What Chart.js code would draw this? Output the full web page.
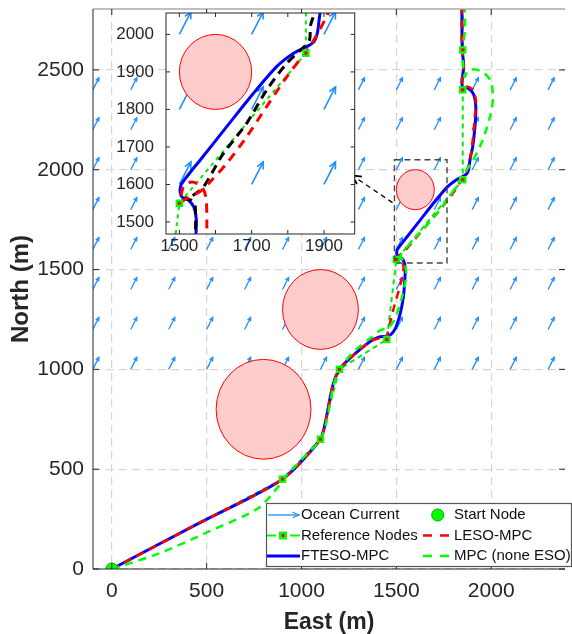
<!DOCTYPE html>
<html>
<head>
<meta charset="utf-8">
<script src="https://cdn.jsdelivr.net/npm/chart.js@4.4.1/dist/chart.umd.min.js"></script>
<style>
  html, body { margin: 0; padding: 0; background: #fff; overflow: hidden; }
  #wrap { position: relative; width: 572px; height: 634px; }
  #main { position: absolute; left: 0; top: 0; }
  #inset { position: absolute; left: 110px; top: 0; }
</style>
</head>
<body>
<div id="wrap">
  <canvas id="main" width="572" height="634"></canvas>
  <canvas id="inset" width="250" height="270"></canvas>
</div>
<script>
// tick values
const xTicks = [0, 500, 1000, 1500, 2000];
const yTicks = [0, 500, 1000, 1500, 2000, 2500];
const insetXTicks = [1500, 1600, 1700, 1800, 1900];
const insetXLabels = ['1500', '', '1700', '', '1900'];
const insetYTicks = [1500, 1600, 1700, 1800, 1900, 2000];

// obstacles (centre + radius, metres)
const obsX = [800, 1100, 1600];
const obsY = [800, 1300, 1900];
const obsR = [250, 200, 100];

// ocean current field (uniform)
const currentX = [-100, 100, 300, 500, 700, 900, 1100, 1300, 1500, 1700, 1900, 2100, 2300];
const currentY = [1000, 1200, 1400, 1600, 1800, 2000, 2200, 2400];
const currentU = 32;
const currentV = 60;

const startNode = [[0, 0]];
const refNodes = [[0, 0], [900, 450], [1100, 650], [1200, 1000], [1450, 1150], [1500, 1550],
  [1850, 1950], [1850, 2400], [1850, 2600], [1850, 2900]];

const ftesoPath = [[0, 0], [450, 225], [900, 450], [1100, 650], [1125, 730], [1165, 920], [1200, 1000],
  [1255, 1055], [1360, 1138], [1410, 1162], [1445, 1166], [1470, 1174], [1495, 1205], [1520, 1278],
  [1537, 1362], [1544, 1440], [1547, 1505], [1540, 1540], [1524, 1559], [1508, 1566], [1502, 1580],
  [1505, 1600], [1560, 1668], [1631, 1754], [1705, 1843], [1769, 1914], [1815, 1949], [1852, 1967],
  [1872, 1980], [1882, 2005], [1889, 2056], [1902, 2112], [1914, 2212], [1919, 2312], [1907, 2378],
  [1876, 2410], [1850, 2412], [1846, 2445], [1855, 2512], [1848, 2600], [1846, 2700], [1846, 2900]];

const lesoPath = [[0, 0], [450, 225], [900, 450], [1100, 650], [1125, 730], [1165, 920], [1200, 1000],
  [1255, 1055], [1360, 1138], [1420, 1158], [1445, 1156], [1462, 1215], [1490, 1320], [1520, 1420],
  [1538, 1505], [1530, 1540], [1508, 1553], [1512, 1568], [1545, 1594], [1620, 1677], [1710, 1777],
  [1790, 1870], [1845, 1950], [1868, 1985], [1888, 2050], [1903, 2150], [1912, 2250], [1920, 2340],
  [1905, 2400], [1875, 2416], [1848, 2418], [1846, 2460], [1855, 2520], [1846, 2600], [1844, 2700],
  [1844, 2900]];

const mpcPath = [[0, 0], [250, 78], [510, 187], [770, 303], [880, 415], [905, 452], [1000, 548],
  [1100, 648], [1132, 740], [1172, 930], [1205, 1002], [1260, 1075], [1314, 1120], [1366, 1158],
  [1418, 1198], [1452, 1204], [1485, 1240], [1510, 1300], [1532, 1370], [1548, 1440], [1552, 1490],
  [1540, 1535], [1522, 1565], [1535, 1592], [1570, 1627], [1610, 1670], [1712, 1778], [1790, 1878],
  [1850, 1970], [1902, 2045], [1954, 2145], [1997, 2278], [2010, 2362], [1997, 2445], [1960, 2487],
  [1911, 2503], [1876, 2495], [1860, 2465], [1852, 2520], [1848, 2600], [1862, 2700], [1858, 2900]];

// zoomed view only
const insetLesoPath = [[1575, 1440], [1576, 1510], [1574, 1560], [1567, 1586], [1550, 1602], [1530, 1606],
  [1512, 1595], [1505, 1572], [1502, 1554], [1521, 1563], [1558, 1582], [1585, 1607], [1631, 1656],
  [1686, 1727], [1741, 1807], [1797, 1887], [1843, 1945], [1861, 1967], [1907, 2047], [1920, 2080]];
const insetBlackPath = [[1544, 1440], [1544, 1540], [1535, 1557], [1516, 1563], [1539, 1572], [1567, 1594],
  [1620, 1680], [1686, 1763], [1741, 1851], [1797, 1923], [1843, 1965], [1860, 1985], [1863, 2025],
  [1876, 2060]];

// zoom window and pointer
const zoomBoxX = [1490, 1767];
const zoomBoxY = [1533, 2050];
const pointerFrom = [1480, 1835];
const pointerTo = [1266, 1972];

const FONT = '"Liberation Sans", Arial, sans-serif';
const TEXT = '#262626';
const CURRENT = '#1e8fff';

function pts(path) {
  return path.map(p => ({ x: p[0], y: p[1] }));
}

function line(ctx, x0, y0, x1, y1) {
  ctx.beginPath();
  ctx.moveTo(x0, y0);
  ctx.lineTo(x1, y1);
  ctx.stroke();
}

function head(ctx, x0, y0, x1, y1, len, spread) {
  const ang = Math.atan2(y1 - y0, x1 - x0);
  ctx.beginPath();
  ctx.moveTo(x1 - len * Math.cos(ang - spread), y1 - len * Math.sin(ang - spread));
  ctx.lineTo(x1, y1);
  ctx.lineTo(x1 - len * Math.cos(ang + spread), y1 - len * Math.sin(ang + spread));
  ctx.stroke();
}

function clipArea(ctx, a) {
  ctx.beginPath();
  ctx.rect(a.left, a.top, a.right - a.left, a.bottom - a.top);
  ctx.clip();
}

function drawCurrents(chart, lw) {
  const { ctx, scales: { x, y } } = chart;
  ctx.strokeStyle = CURRENT;
  ctx.lineWidth = lw;
  ctx.setLineDash([]);
  currentY.forEach(cy => currentX.forEach(cx => {
    const x0 = x.getPixelForValue(cx), y0 = y.getPixelForValue(cy);
    const x1 = x.getPixelForValue(cx + currentU), y1 = y.getPixelForValue(cy + currentV);
    line(ctx, x0, y0, x1, y1);
    head(ctx, x0, y0, x1, y1, Math.hypot(x1 - x0, y1 - y0) * 0.3, 0.45);
  }));
}

function drawObstacles(chart) {
  const { ctx, scales: { x, y } } = chart;
  obsX.forEach((ox, i) => {
    const cx = x.getPixelForValue(ox), cy = y.getPixelForValue(obsY[i]);
    const rx = Math.abs(x.getPixelForValue(ox + obsR[i]) - cx);
    const ry = Math.abs(y.getPixelForValue(obsY[i] + obsR[i]) - cy);
    ctx.beginPath();
    ctx.ellipse(cx, cy, rx, ry, 0, 0, 2 * Math.PI);
    ctx.fillStyle = '#ffcccc';
    ctx.fill();
    ctx.strokeStyle = '#ff0000';
    ctx.lineWidth = 1;
    ctx.stroke();
  });
}

function drawLegend(ctx) {
  const bx = 266, by = 503, bw = 305, bh = 63;
  const rows = [515, 535.5, 556];
  ctx.save();
  ctx.setLineDash([]);
  ctx.fillStyle = '#fff';
  ctx.fillRect(bx, by, bw, bh);
  ctx.strokeStyle = '#555';
  ctx.lineWidth = 1.2;
  ctx.strokeRect(bx + 0.5, by + 0.5, bw, bh);

  // Ocean Current
  ctx.strokeStyle = CURRENT; ctx.lineWidth = 1.3;
  line(ctx, 268, rows[0], 299, rows[0]);
  head(ctx, 268, rows[0], 299, rows[0], 7, 0.4);
  // Reference Nodes
  ctx.strokeStyle = '#00ff00'; ctx.lineWidth = 2;
  line(ctx, 267, rows[1], 276, rows[1]);
  line(ctx, 290, rows[1], 300, rows[1]);
  ctx.fillStyle = '#00ff00'; ctx.fillRect(279, rows[1] - 4, 8, 8);
  ctx.fillStyle = '#ff0000'; ctx.fillRect(281.5, rows[1] - 1.5, 3, 3);
  // FTESO-MPC
  ctx.strokeStyle = '#0000ff'; ctx.lineWidth = 3;
  line(ctx, 267, rows[2], 300, rows[2]);
  // Start Node
  ctx.beginPath(); ctx.arc(437.7, rows[0], 6, 0, 2 * Math.PI);
  ctx.fillStyle = '#00ff00'; ctx.fill();
  ctx.strokeStyle = '#00b000'; ctx.lineWidth = 1; ctx.stroke();
  // LESO-MPC / MPC
  ctx.lineWidth = 2.5;
  ctx.strokeStyle = '#ff0000';
  line(ctx, 423, rows[1], 432, rows[1]); line(ctx, 440, rows[1], 449, rows[1]);
  ctx.strokeStyle = '#00ff00';
  line(ctx, 423, rows[2], 432, rows[2]); line(ctx, 440, rows[2], 449, rows[2]);

  ctx.fillStyle = '#111';
  ctx.font = '15px ' + FONT;
  ctx.textBaseline = 'middle';
  ctx.textAlign = 'left';
  ctx.fillText('Ocean Current', 301, rows[0]);
  ctx.fillText('Reference Nodes', 301, rows[1]);
  ctx.fillText('FTESO-MPC', 301, rows[2]);
  ctx.fillText('Start Node', 454, rows[0]);
  ctx.fillText('LESO-MPC', 454, rows[1]);
  ctx.fillText('MPC (none ESO)', 454, rows[2]);
  ctx.restore();
}

const mainDecor = {
  id: 'mainDecor',
  beforeDatasetsDraw(chart) {
    const ctx = chart.ctx;
    ctx.save();
    clipArea(ctx, chart.chartArea);
    drawCurrents(chart, 1.3);
    drawObstacles(chart);
    ctx.restore();
  },
  afterDatasetsDraw(chart) {
    const { ctx, chartArea: a, scales: { x, y } } = chart;
    ctx.save();
    ctx.setLineDash([]);
    // frame and inward ticks
    ctx.strokeStyle = '#a8a8a8'; ctx.lineWidth = 1.5;
    line(ctx, a.left, a.top, a.right, a.top);
    ctx.strokeStyle = TEXT; ctx.lineWidth = 1;
    line(ctx, a.left, a.top, a.left, a.bottom);
    line(ctx, a.left, a.bottom, a.right, a.bottom);
    xTicks.forEach(v => {
      const px = x.getPixelForValue(v);
      line(ctx, px, a.bottom, px, a.bottom - 6);
      line(ctx, px, a.top, px, a.top + 6);
    });
    yTicks.forEach(v => {
      const py = y.getPixelForValue(v);
      line(ctx, a.left, py, a.left + 6, py);
      line(ctx, a.right, py, a.right - 6, py);
    });
    // zoom window
    const zx0 = x.getPixelForValue(zoomBoxX[0]), zx1 = x.getPixelForValue(zoomBoxX[1]);
    const zy0 = y.getPixelForValue(zoomBoxY[1]), zy1 = y.getPixelForValue(zoomBoxY[0]);
    ctx.strokeStyle = '#444'; ctx.lineWidth = 1.4;
    ctx.setLineDash([6, 4]);
    ctx.strokeRect(zx0, zy0, zx1 - zx0, zy1 - zy0);
    // pointer to the inset
    const p0x = x.getPixelForValue(pointerFrom[0]), p0y = y.getPixelForValue(pointerFrom[1]);
    const p1x = x.getPixelForValue(pointerTo[0]), p1y = y.getPixelForValue(pointerTo[1]);
    ctx.strokeStyle = '#000'; ctx.lineWidth = 1.3;
    ctx.setLineDash([5, 4]);
    line(ctx, p0x, p0y, p1x, p1y);
    ctx.setLineDash([]); ctx.lineWidth = 1.8;
    head(ctx, p0x, p0y, p1x, p1y, 10, 0.45);
    ctx.restore();
    drawLegend(ctx);
  }
};

const mainChart = new Chart(document.getElementById('main'), {
  type: 'scatter',
  data: {
    datasets: [
      { label: 'Start Node', data: pts(startNode), pointStyle: 'circle', pointRadius: 6,
        backgroundColor: '#00ff00', borderColor: '#00b000', borderWidth: 1 },
      { data: pts(refNodes), pointStyle: 'rect', pointRadius: 2.2, backgroundColor: '#ff0000', borderWidth: 0 },
      { label: 'Reference Nodes', data: pts(refNodes), pointStyle: 'rect', pointRadius: 5.3,
        backgroundColor: '#00ff00', borderWidth: 0 },
      { label: 'MPC (none ESO)', data: pts(mpcPath), showLine: true, pointRadius: 0,
        borderColor: '#00ff00', borderWidth: 2.5, borderDash: [8, 6], tension: 0.25 },
      { label: 'LESO-MPC', data: pts(lesoPath), showLine: true, pointRadius: 0,
        borderColor: '#ff0000', borderWidth: 2.5, borderDash: [8, 6], tension: 0.25 },
      { label: 'FTESO-MPC', data: pts(ftesoPath), showLine: true, pointRadius: 0,
        borderColor: '#0000ff', borderWidth: 3, tension: 0.25 },
      { data: pts(refNodes), showLine: true, pointRadius: 0,
        borderColor: '#00ee00', borderWidth: 2, borderDash: [5, 4], tension: 0 }
    ]
  },
  options: {
    responsive: false,
    animation: false,
    events: [],
    layout: { padding: { top: 9, left: 0, right: 0, bottom: 0 } },
    elements: { line: { capBezierPoints: false } },
    plugins: { legend: { display: false }, tooltip: { enabled: false } },
    scales: {
      x: {
        type: 'linear', min: -99, max: 2389,
        afterBuildTicks: s => { s.ticks = xTicks.map(v => ({ value: v })); },
        afterFit: s => { s.height = 65; s.paddingLeft = 0; s.paddingRight = 0; },
        grid: { color: '#d6d6d6', lineWidth: 1.2, drawTicks: false },
        border: { display: false, dash: [8, 5] },
        ticks: { padding: 10, color: TEXT, font: { family: FONT, size: 21 }, maxRotation: 0, autoSkip: false,
          callback: v => String(v) },
        title: { display: true, text: 'East (m)', color: TEXT,
          font: { family: FONT, size: 23, weight: 'bold', lineHeight: 1 }, padding: { top: 0, bottom: 0 } }
      },
      y: {
        type: 'linear', min: 0, max: 2805,
        afterBuildTicks: s => { s.ticks = yTicks.map(v => ({ value: v })); },
        afterFit: s => { s.width = 93; s.paddingTop = 0; s.paddingBottom = 0; },
        grid: { color: '#d6d6d6', lineWidth: 1.2, drawTicks: false },
        border: { display: false, dash: [8, 5] },
        ticks: { padding: 9, color: TEXT, font: { family: FONT, size: 21 }, autoSkip: false,
          callback: v => String(v) },
        title: { display: true, text: 'North (m)', color: TEXT,
          font: { family: FONT, size: 24, weight: 'bold', lineHeight: 1 }, padding: { top: 9, bottom: 0 } }
      }
    }
  },
  plugins: [mainDecor]
});

const insetDecor = {
  id: 'insetDecor',
  beforeDatasetsDraw(chart) {
    const { ctx, chartArea: a } = chart;
    ctx.save();
    clipArea(ctx, a);
    drawCurrents(chart, 1.6);
    drawObstacles(chart);
    ctx.restore();
  },
  beforeDraw(chart) {
    const { ctx, chartArea: a } = chart;
    ctx.save();
    ctx.fillStyle = '#fff';
    ctx.fillRect(a.left, a.top, a.right - a.left, a.bottom - a.top);
    ctx.restore();
  },
  afterDatasetsDraw(chart) {
    const { ctx, chartArea: a, scales: { x, y } } = chart;
    ctx.save();
    ctx.strokeStyle = TEXT; ctx.lineWidth = 1;
    ctx.strokeRect(a.left, a.top, a.right - a.left, a.bottom - a.top);
    insetXTicks.forEach(v => {
      const px = x.getPixelForValue(v);
      line(ctx, px, a.bottom, px, a.bottom - 4);
      line(ctx, px, a.top, px, a.top + 4);
    });
    insetYTicks.forEach(v => {
      const py = y.getPixelForValue(v);
      line(ctx, a.left, py, a.left + 4, py);
      line(ctx, a.right, py, a.right - 4, py);
    });
    ctx.restore();
  }
};

const insetChart = new Chart(document.getElementById('inset'), {
  type: 'scatter',
  data: {
    datasets: [
      { data: pts(refNodes), pointStyle: 'rect', pointRadius: 2.2, backgroundColor: '#ff0000', borderWidth: 0 },
      { data: pts(refNodes), pointStyle: 'rect', pointRadius: 5.3, backgroundColor: '#00ff00', borderWidth: 0 },
      { data: pts(insetLesoPath), showLine: true, pointRadius: 0,
        borderColor: '#ff0000', borderWidth: 3, borderDash: [9, 7], tension: 0.3 },
      { data: pts(insetBlackPath), showLine: true, pointRadius: 0,
        borderColor: '#000000', borderWidth: 3, borderDash: [9, 6], tension: 0.3 },
      { data: pts(ftesoPath), showLine: true, pointRadius: 0,
        borderColor: '#0000ff', borderWidth: 3, tension: 0.25 },
      { data: pts(refNodes), showLine: true, pointRadius: 0,
        borderColor: '#00ee00', borderWidth: 2, borderDash: [4, 4], tension: 0 }
    ]
  },
  options: {
    responsive: false,
    animation: false,
    events: [],
    layout: { padding: { top: 13, left: 0, right: 5, bottom: 0 } },
    elements: { line: { capBezierPoints: false } },
    plugins: { legend: { display: false }, tooltip: { enabled: false } },
    scales: {
      x: {
        type: 'linear', min: 1463, max: 1985,
        afterBuildTicks: s => { s.ticks = insetXTicks.map(v => ({ value: v })); },
        afterFit: s => { s.height = 36; s.paddingLeft = 0; s.paddingRight = 0; },
        grid: { display: false, drawTicks: false },
        border: { display: false },
        ticks: { padding: 2, color: TEXT, font: { family: FONT, size: 17 }, maxRotation: 0, autoSkip: false,
          callback: (v, i) => insetXLabels[i] }
      },
      y: {
        type: 'linear', min: 1468, max: 2057,
        afterBuildTicks: s => { s.ticks = insetYTicks.map(v => ({ value: v })); },
        afterFit: s => { s.width = 56; s.paddingTop = 0; s.paddingBottom = 0; },
        grid: { display: false, drawTicks: false },
        border: { display: false },
        ticks: { padding: 12, color: TEXT, font: { family: FONT, size: 17 }, autoSkip: false,
          callback: v => String(v) }
      }
    }
  },
  plugins: [insetDecor]
});
</script>
</body>
</html>
